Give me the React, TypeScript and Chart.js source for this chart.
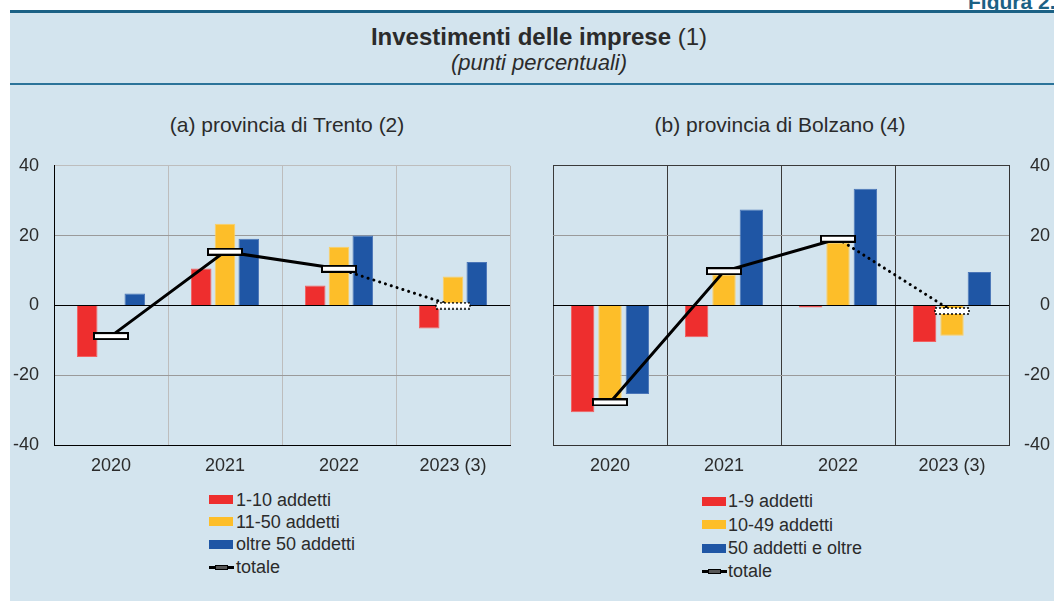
import React, { useEffect, useRef } from 'react';
import { Chart, registerables } from 'chart.js';
Chart.register(...registerables);

// ---------- data ----------
const categories = ['2020', '2021', '2022', '2023 (3)'];
const trentoSmall = [-14.8, 10.6, 5.7, -6.6];
const trentoMedium = [0, 23.4, 16.8, 8.3];
const trentoLarge = [3.4, 19.1, 20.0, 12.4];
const trentoTotal = [-8.8, 15.4, 10.5, -0.1];
const bolzanoSmall = [-30.6, -9.1, -0.6, -10.5];
const bolzanoMedium = [-27.5, 8.8, 18.0, -8.7];
const bolzanoLarge = [-25.4, 27.5, 33.4, 9.6];
const bolzanoTotal = [-27.8, 9.8, 19.1, -1.6];
const yMin = -40;
const yMax = 40;
const yStep = 20;
const trentoLegend = ['1-10 addetti', '11-50 addetti', 'oltre 50 addetti', 'totale'];
const bolzanoLegend = ['1-9 addetti', '10-49 addetti', '50 addetti e oltre', 'totale'];

// ---------- styles ----------
const FONT = '"Liberation Sans", Arial, Helvetica, sans-serif';
const BG = '#d3e4ee';
const TEAL = '#1b6185';
const TEAL2 = '#2b7399';
const RED = '#ee2e2e';
const YELLOW = '#fdbe29';
const BLUE = '#1f56a5';
const RED_EDGE = '#f26060';
const YELLOW_EDGE = '#fdd064';
const BLUE_EDGE = '#4a75b8';
const TEXT = '#2b2b2b';

function makeMarker(dotted: boolean) {
  const c = document.createElement('canvas');
  c.width = 36;
  c.height = 8;
  const g = c.getContext('2d')!;
  g.fillStyle = '#ffffff';
  g.fillRect(1, 1, 34, 6);
  g.strokeStyle = '#000000';
  if (dotted) {
    g.lineWidth = 1.5;
    g.setLineDash([2, 2]);
  } else {
    g.lineWidth = 2;
  }
  g.strokeRect(1, 1, 34, 6);
  return c;
}

type PanelOpts = {
  small: number[];
  medium: number[];
  large: number[];
  total: number[];
  labels: string[];
  right: boolean;
  catPct: number;
  barPct: number;
};

function buildConfig(p: PanelOpts): any {
  const solid = makeMarker(false);
  const dotted = makeMarker(true);
  const gridLight = p.right ? '#3a3a3a' : '#bdbdbd';
  const borderCol = p.right ? '#333333' : '#000000';
  const bar = (label: string, data: number[], color: string, edge: string) => ({
    type: 'bar',
    label,
    data,
    backgroundColor: color,
    borderColor: edge,
    borderWidth: 1,
    categoryPercentage: p.catPct,
    barPercentage: p.barPct,
    order: 1,
  });
  return {
    type: 'bar',
    data: {
      labels: categories,
      datasets: [
        bar(p.labels[0], p.small, RED, RED_EDGE),
        bar(p.labels[1], p.medium, YELLOW, YELLOW_EDGE),
        bar(p.labels[2], p.large, BLUE, BLUE_EDGE),
        {
          type: 'line',
          label: p.labels[3],
          data: p.total,
          borderColor: '#000000',
          borderWidth: 3,
          borderCapStyle: 'round',
          fill: false,
          tension: 0,
          pointRadius: 4,
          pointStyle: (ctx: any) => (ctx.dataIndex === 3 ? dotted : solid),
          segment: {
            borderDash: (ctx: any) => (ctx.p1DataIndex === 3 ? [0.1, 6] : undefined),
          },
          order: 0,
        },
      ],
    },
    options: {
      animation: false,
      responsive: false,
      maintainAspectRatio: false,
      devicePixelRatio: 1,
      layout: {
        padding: p.right
          ? { left: 13, right: 4, top: 23, bottom: 0 }
          : { left: 0, right: 30, top: 22, bottom: 0 },
      },
      plugins: {
        legend: { display: false },
        tooltip: { enabled: false },
        title: { display: false },
      },
      scales: {
        x: {
          type: 'category',
          offset: true,
          grid: {
            offset: true,
            drawTicks: false,
            color: gridLight,
            lineWidth: 1,
          },
          border: { display: true, color: borderCol, width: 1 },
          ticks: {
            font: { family: FONT, size: 18 },
            color: TEXT,
            padding: 10,
            maxRotation: 0,
          },
          afterFit: (s: any) => {
            s.height = 35;
          },
        },
        y: {
          position: p.right ? 'right' : 'left',
          min: yMin,
          max: yMax,
          ticks: {
            stepSize: yStep,
            font: { family: FONT, size: 18 },
            color: TEXT,
            padding: 15,
            crossAlign: p.right ? 'far' : 'near',
          },
          grid: {
            drawTicks: false,
            lineWidth: 1,
            color: (ctx: any) => {
              const v = ctx.tick ? ctx.tick.value : null;
              if (v === 0) return '#000000';
              if (v === yMax || v === yMin) return gridLight;
              return '#9a9a9a';
            },
          },
          border: { display: true, color: borderCol, width: 1 },
          afterFit: (s: any) => {
            s.width = p.right ? 41 : 54;
          },
        },
      },
    },
  };
}

function Panel(props: PanelOpts & { left: number; top: number; width: number; height: number }) {
  const ref = useRef<HTMLCanvasElement | null>(null);
  useEffect(() => {
    if (!ref.current) return;
    const chart = new Chart(ref.current, buildConfig(props));
    return () => chart.destroy();
  }, []);
  return (
    <canvas
      ref={ref}
      width={props.width}
      height={props.height}
      style={{
        position: 'absolute',
        left: props.left,
        top: props.top,
        width: props.width,
        height: props.height,
      }}
    />
  );
}

function TextLine(props: { x: number; y: number; size: number; children: any; w?: number; style?: any }) {
  const w = props.w ?? 600;
  return (
    <div
      style={{
        position: 'absolute',
        left: props.x - w / 2,
        width: w,
        top: props.y - props.size / 2 - 2,
        height: props.size + 4,
        lineHeight: `${props.size + 4}px`,
        fontSize: props.size,
        textAlign: 'center',
        color: TEXT,
        whiteSpace: 'nowrap',
        ...(props.style || {}),
      }}
    >
      {props.children}
    </div>
  );
}

function Legend(props: { labels: string[]; boxX: number; textX: number; rows: number[] }) {
  const colors = [RED, YELLOW, BLUE];
  return (
    <>
      {props.labels.map((lab, i) => (
        <React.Fragment key={lab}>
          {i < 3 ? (
            <div
              style={{
                position: 'absolute',
                left: props.boxX,
                top: props.rows[i] - 4.5,
                width: 24,
                height: 9,
                background: colors[i],
              }}
            />
          ) : (
            <>
              <div
                style={{
                  position: 'absolute',
                  left: props.boxX,
                  top: props.rows[i] - 1.5,
                  width: 25,
                  height: 3,
                  background: '#000',
                }}
              />
              <div
                style={{
                  position: 'absolute',
                  left: props.boxX + 6,
                  top: props.rows[i] - 2.5,
                  width: 11,
                  height: 3,
                  background: '#555',
                  border: '1px solid #000',
                }}
              />
            </>
          )}
          <div
            style={{
              position: 'absolute',
              left: props.textX,
              top: props.rows[i] - 11,
              height: 22,
              lineHeight: '22px',
              fontSize: 18,
              color: TEXT,
              whiteSpace: 'nowrap',
            }}
          >
            {lab}
          </div>
        </React.Fragment>
      ))}
    </>
  );
}

export default function App() {
  return (
    <div
      style={{
        position: 'absolute',
        left: 0,
        top: 0,
        width: 1054,
        height: 601,
        overflow: 'hidden',
        background: '#ffffff',
        fontFamily: FONT,
      }}
    >
      <div style={{ position: 'absolute', left: 10, top: 10, right: 0, bottom: 0, background: BG }} />
      <div style={{ position: 'absolute', left: 10, top: 10, right: 0, height: 3, background: TEAL }} />
      <div style={{ position: 'absolute', left: 10, top: 83, right: 0, height: 2, background: TEAL2 }} />
      <div
        style={{
          position: 'absolute',
          left: 968,
          top: -9,
          fontSize: 21,
          lineHeight: '21px',
          fontWeight: 'bold',
          color: TEAL,
          whiteSpace: 'nowrap',
        }}
      >
        Figura 2.
      </div>
      <TextLine x={539} y={37} size={24}>
        <b>Investimenti delle imprese</b> (1)
      </TextLine>
      <TextLine x={539} y={63} size={22} style={{ fontStyle: 'italic' }}>
        (punti percentuali)
      </TextLine>
      <TextLine x={287} y={124} size={21}>
        (a) provincia di Trento (2)
      </TextLine>
      <TextLine x={780} y={124} size={21}>
        (b) provincia di Bolzano (4)
      </TextLine>

      <Panel
        left={0}
        top={140}
        width={540}
        height={340}
        small={trentoSmall}
        medium={trentoMedium}
        large={trentoLarge}
        total={trentoTotal}
        labels={trentoLegend}
        right={false}
        catPct={0.626}
        barPct={0.865}
      />
      <Panel
        left={540}
        top={140}
        width={514}
        height={340}
        small={bolzanoSmall}
        medium={bolzanoMedium}
        large={bolzanoLarge}
        total={bolzanoTotal}
        labels={bolzanoLegend}
        right={true}
        catPct={0.72}
        barPct={0.855}
      />

      <Legend labels={trentoLegend} boxX={209} textX={236} rows={[499.5, 521.5, 544, 567]} />
      <Legend labels={bolzanoLegend} boxX={702} textX={728} rows={[501, 524.5, 548, 571]} />
    </div>
  );
}
